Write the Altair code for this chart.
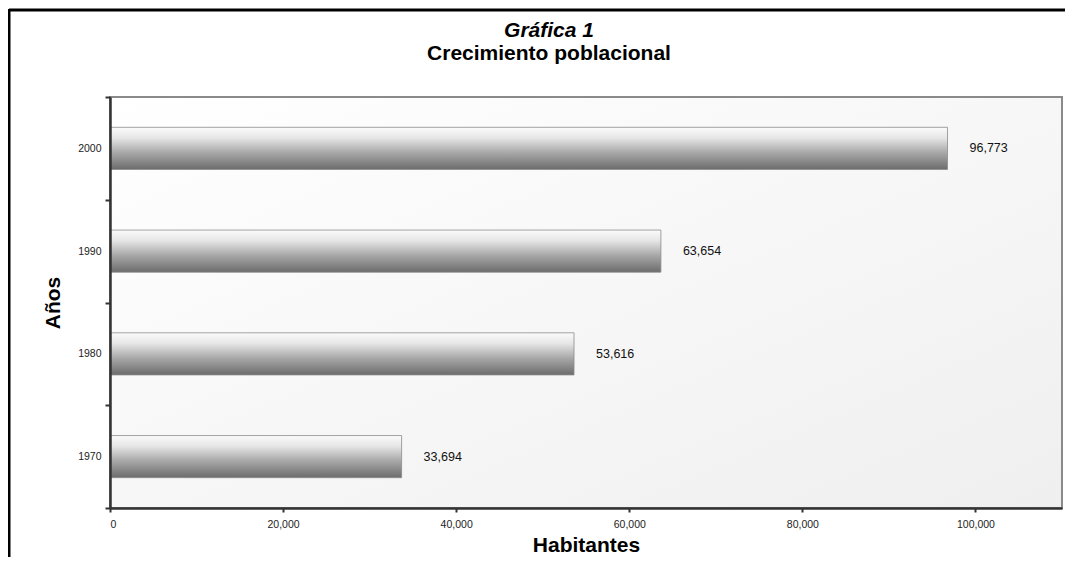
import altair as alt
import pandas as pd

years = ["2000", "1990", "1980", "1970"]
habitantes = [96773, 63654, 53616, 33694]
x_ticks = [0, 20000, 40000, 60000, 80000, 100000]

df = pd.DataFrame({"year": years, "hab": habitantes})
FONT = "Liberation Sans"

bar_grad = alt.LinearGradient(
    gradient="linear", x1=0, y1=0, x2=0, y2=1,
    stops=[
        alt.GradientStop(offset=0, color="#fbfbfb"),
        alt.GradientStop(offset=0.25, color="#e6e6e6"),
        alt.GradientStop(offset=0.6, color="#a8a8a8"),
        alt.GradientStop(offset=1, color="#6c6c6c"),
    ],
)
bg_grad = alt.LinearGradient(
    gradient="linear", x1=0, y1=0, x2=1, y2=1,
    stops=[
        alt.GradientStop(offset=0, color="#ffffff"),
        alt.GradientStop(offset=1, color="#efefef"),
    ],
)

one = alt.Chart(pd.DataFrame({"a": [0]}))

bg = one.mark_rect(fill=bg_grad, stroke="#8a8a8a", strokeWidth=2).encode(
    x=alt.value(0), x2=alt.value("width"), y=alt.value(0), y2=alt.value("height")
)

base = alt.Chart(df)
y_enc = alt.Y(
    "year:N", sort=years, title="Años",
    scale=alt.Scale(paddingInner=0, paddingOuter=0),
    axis=alt.Axis(
        tickBand="extent", labelFontSize=10.5, labelColor="#222",
        labelPadding=4, tickSize=5, tickColor="#333", tickWidth=2,
        domainColor="#333", domainWidth=2.5, titleFontSize=21,
        titleFontWeight="bold", titlePadding=14, titleColor="#000",
        labelFont=FONT, titleFont=FONT, zindex=1,
    ),
)
x_enc = alt.X(
    "hab:Q", title="Habitantes",
    scale=alt.Scale(domain=[0, 110000], nice=False),
    axis=alt.Axis(
        values=x_ticks, format=",.0f", grid=False, labelFontSize=10.5,
        labelColor="#222", labelPadding=7, tickSize=4, tickColor="#333",
        tickWidth=2, domainColor="#333", domainWidth=2.5, titleFontSize=21,
        titleFontWeight="bold", titlePadding=5, titleColor="#000",
        labelFont=FONT, titleFont=FONT, zindex=1,
    ),
)

bars = base.mark_bar(
    color=bar_grad, stroke="#8c8c8c", strokeWidth=0.8, height={"band": 0.41}
).encode(x=x_enc, y=y_enc)
labels = base.mark_text(
    align="left", baseline="middle", dx=22, fontSize=12.5, font=FONT, color="#111"
).encode(x=x_enc, y=y_enc, text=alt.Text("hab:Q", format=","))

frame_left = one.mark_rule(color="#000", strokeWidth=3).encode(
    x=alt.value(-101), y=alt.value(-88), y2=alt.value(600)
)
frame_top = one.mark_rule(color="#000", strokeWidth=3).encode(
    x=alt.value(-101), x2=alt.value(960), y=alt.value(-87)
)

chart = alt.layer(bg, bars, labels, frame_left, frame_top).properties(
    width=952,
    height=411,
    autosize=alt.AutoSizeParams(type="none"),
    padding={"left": 102, "top": 89, "right": 3, "bottom": 49},
    title=alt.TitleParams(
        text="Gráfica 1",
        subtitle="Crecimiento poblacional",
        font=FONT, fontSize=21, fontWeight="bold", fontStyle="italic", color="#000",
        subtitleFont=FONT, subtitleFontSize=21, subtitleFontWeight="bold",
        subtitleFontStyle="normal", subtitleColor="#000", subtitlePadding=2,
        anchor="middle", frame="group", dx=-37, offset=-56,
    ),
).configure_view(stroke="#8a8a8a", strokeWidth=2).configure(background="#ffffff")

chart.save("out.html", embed_options={"renderer": "svg", "actions": False})
